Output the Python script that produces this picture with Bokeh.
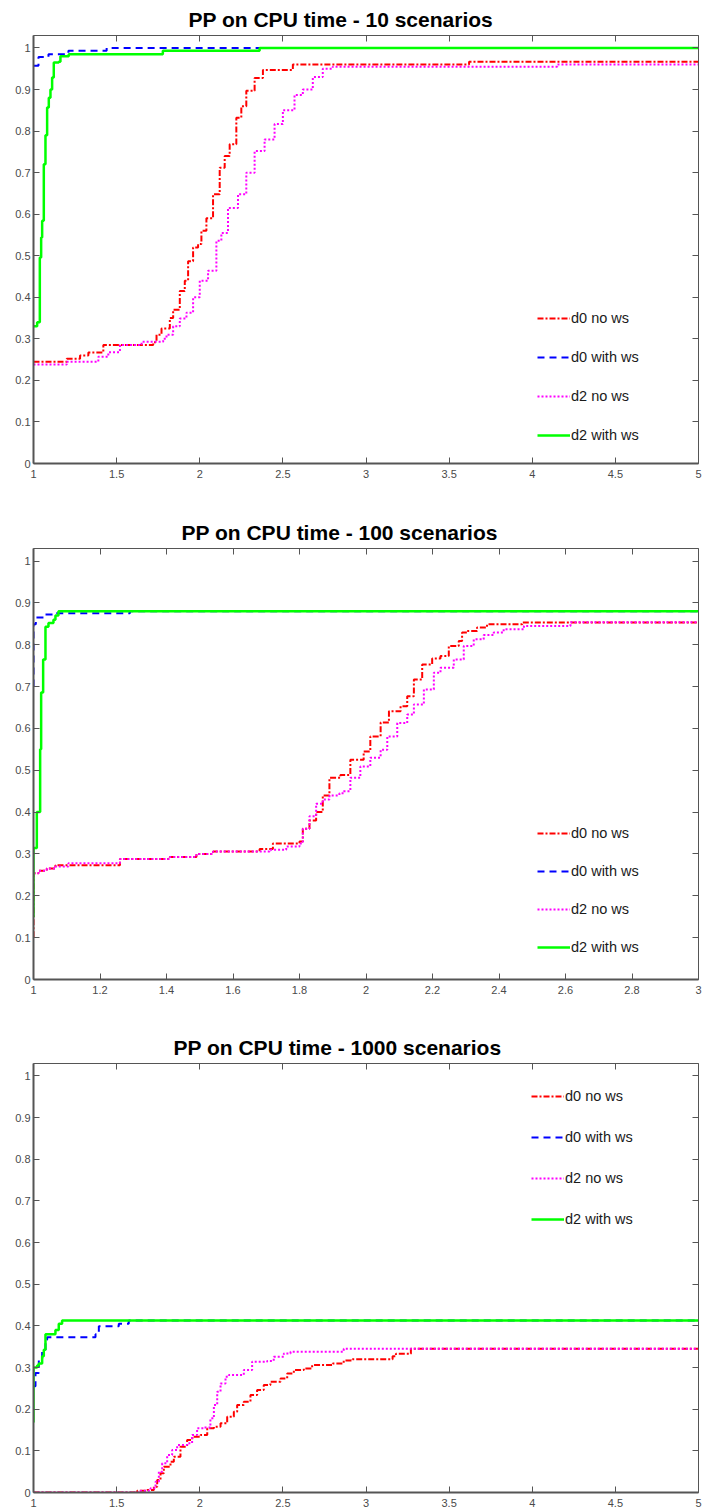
from bokeh.plotting import figure
from bokeh.layouts import column
from bokeh.models import Range1d, FixedTicker, LinearAxis, NumeralTickFormatter
from bokeh.embed import file_html
from bokeh.resources import INLINE

# ---------------- data ----------------
TITLES = ["PP on CPU time - 10 scenarios",
          "PP on CPU time - 100 scenarios",
          "PP on CPU time - 1000 scenarios"]
LABELS = ["d0 no ws", "d0 with ws", "d2 no ws", "d2 with ws"]

Y_TICKS = [0, 0.1, 0.2, 0.3, 0.4, 0.5, 0.6, 0.7, 0.8, 0.9, 1.0]
X_TICKS_1 = [1, 1.5, 2, 2.5, 3, 3.5, 4, 4.5, 5]
X_TICKS_2 = [1, 1.2, 1.4, 1.6, 1.8, 2, 2.2, 2.4, 2.6, 2.8, 3]
X_TICKS_3 = [1, 1.5, 2, 2.5, 3, 3.5, 4, 4.5, 5]

# Panel 1 : 10 scenarios
P1_D0_NOWS_X = [1.0, 1.2, 1.28, 1.33, 1.42, 1.72, 1.74, 1.77, 1.82, 1.84, 1.88, 1.91, 1.93, 1.96,
                1.99, 2.01, 2.04, 2.08, 2.12, 2.15, 2.18, 2.22, 2.25, 2.28, 2.33, 2.38, 2.56, 3.62, 5.0]
P1_D0_NOWS_Y = [0.245, 0.252, 0.26, 0.267, 0.285, 0.292, 0.31, 0.325, 0.35, 0.37, 0.415, 0.44, 0.487,
                0.52, 0.528, 0.56, 0.59, 0.648, 0.712, 0.74, 0.768, 0.832, 0.86, 0.897, 0.928, 0.947,
                0.96, 0.967, 0.967]
P1_D0_WS_X = [1.0, 1.03, 1.09, 1.21, 1.44, 5.0]
P1_D0_WS_Y = [0.957, 0.978, 0.985, 0.993, 1.0, 1.0]
P1_D2_NOWS_X = [1.0, 1.2, 1.39, 1.45, 1.52, 1.65, 1.78, 1.8, 1.84, 1.88, 1.92, 1.96, 2.0, 2.05, 2.1,
                2.13, 2.17, 2.23, 2.28, 2.33, 2.39, 2.45, 2.5, 2.57, 2.62, 2.68, 2.74, 2.8, 4.15, 5.0]
P1_D2_NOWS_Y = [0.238, 0.245, 0.257, 0.268, 0.285, 0.293, 0.3, 0.31, 0.33, 0.349, 0.363, 0.40, 0.44,
                0.464, 0.536, 0.555, 0.615, 0.648, 0.7, 0.752, 0.78, 0.817, 0.85, 0.887, 0.9, 0.93,
                0.95, 0.955, 0.96, 0.96]
P1_D2_WS_X = [1.0, 1.022, 1.038, 1.046, 1.052, 1.062, 1.072, 1.082, 1.092, 1.102, 1.112, 1.122,
              1.152, 1.162, 1.212, 1.778, 2.36, 5.0]
P1_D2_WS_Y = [0.33, 0.34, 0.496, 0.544, 0.584, 0.72, 0.79, 0.857, 0.88, 0.9, 0.929, 0.965, 0.967,
              0.98, 0.985, 0.993, 1.0, 1.0]

# Panel 2 : 100 scenarios
P2_D0_NOWS_X = [1.0, 1.0, 1.0, 1.015, 1.04, 1.066, 1.26, 1.41, 1.49, 1.54, 1.68, 1.72, 1.8, 1.81,
                1.83, 1.85, 1.87, 1.89, 1.923, 1.953, 1.993, 2.013, 2.044, 2.069, 2.104, 2.124, 2.144,
                2.169, 2.199, 2.224, 2.249, 2.279, 2.289, 2.304, 2.334, 2.364, 2.47, 3.0]
P2_D0_NOWS_Y = [0.101, 0.145, 0.254, 0.26, 0.265, 0.273, 0.288, 0.293, 0.30, 0.306, 0.312, 0.325,
                0.33, 0.36, 0.38, 0.40, 0.44, 0.482, 0.489, 0.525, 0.545, 0.581, 0.614, 0.641, 0.653,
                0.677, 0.717, 0.753, 0.767, 0.773, 0.797, 0.809, 0.829, 0.833, 0.841, 0.849, 0.853,
                0.853]
P2_D0_WS_X = [1.0, 1.0, 1.0, 1.007, 1.03, 1.06, 1.29, 3.0]
P2_D0_WS_Y = [0.70, 0.80, 0.849, 0.865, 0.872, 0.875, 0.88, 0.88]
P2_D2_NOWS_X = [1.0, 1.015, 1.04, 1.066, 1.105, 1.26, 1.41, 1.49, 1.54, 1.71, 1.76, 1.8, 1.81, 1.83,
                1.85, 1.87, 1.89, 1.92, 1.933, 1.953, 1.983, 2.013, 2.044, 2.064, 2.094, 2.124, 2.144,
                2.174, 2.204, 2.224, 2.264, 2.294, 2.324, 2.354, 2.384, 2.414, 2.475, 2.615, 3.0]
P2_D2_NOWS_Y = [0.254, 0.26, 0.265, 0.27, 0.278, 0.288, 0.293, 0.30, 0.306, 0.31, 0.318, 0.325, 0.36,
                0.39, 0.42, 0.43, 0.44, 0.445, 0.45, 0.482, 0.509, 0.53, 0.549, 0.581, 0.613, 0.633,
                0.657, 0.693, 0.733, 0.745, 0.765, 0.797, 0.813, 0.823, 0.829, 0.837, 0.845, 0.854,
                0.854]
P2_D2_WS_X = [1.0, 1.0, 1.01, 1.02, 1.023, 1.029, 1.036, 1.045, 1.06, 1.066, 1.075, 3.0]
P2_D2_WS_Y = [0.149, 0.314, 0.40, 0.55, 0.686, 0.765, 0.843, 0.852, 0.86, 0.87, 0.88, 0.88]

# Panel 3 : 1000 scenarios
P3_D0_NOWS_X = [1.0, 1.624, 1.684, 1.724, 1.744, 1.764, 1.784, 1.824, 1.844, 1.884, 1.924, 1.955,
                2.005, 2.045, 2.085, 2.125, 2.165, 2.205, 2.225, 2.265, 2.305, 2.345, 2.385, 2.425,
                2.486, 2.526, 2.566, 2.626, 2.676, 2.8, 2.866, 2.919, 3.16, 3.18, 3.27, 5.0]
P3_D0_NOWS_Y = [0.0, 0.004, 0.006, 0.014, 0.030, 0.046, 0.062, 0.074, 0.086, 0.11, 0.126, 0.134,
                0.138, 0.154, 0.158, 0.166, 0.182, 0.194, 0.21, 0.218, 0.234, 0.246, 0.258, 0.266,
                0.274, 0.286, 0.294, 0.298, 0.306, 0.31, 0.317, 0.32, 0.327, 0.333, 0.345, 0.345]
P3_D0_WS_X = [1.0, 1.012, 1.032, 1.052, 1.072, 1.082, 1.373, 1.393, 1.513, 1.573, 5.0]
P3_D0_WS_Y = [0.255, 0.287, 0.319, 0.339, 0.367, 0.373, 0.38, 0.399, 0.405, 0.413, 0.413]
P3_D2_NOWS_X = [1.0, 1.644, 1.704, 1.734, 1.754, 1.774, 1.804, 1.834, 1.864, 1.924, 1.954, 1.984,
                2.024, 2.064, 2.085, 2.105, 2.125, 2.155, 2.175, 2.265, 2.315, 2.405, 2.445, 2.506,
                2.546, 2.866, 5.0]
P3_D2_NOWS_Y = [0.0, 0.004, 0.01, 0.026, 0.05, 0.07, 0.09, 0.102, 0.114, 0.118, 0.138, 0.154, 0.156,
                0.178, 0.21, 0.242, 0.262, 0.278, 0.282, 0.294, 0.314, 0.316, 0.326, 0.334, 0.338,
                0.345, 0.345]
P3_D2_WS_X = [1.0, 1.0, 1.022, 1.032, 1.052, 1.062, 1.072, 1.132, 1.152, 1.172, 5.0]
P3_D2_WS_Y = [0.168, 0.30, 0.305, 0.31, 0.327, 0.343, 0.38, 0.39, 0.405, 0.413, 0.413]

# ---------------- styling ----------------
COLORS = ["#ff0000", "#0000ff", "#ff00ff", "#00ff00"]
DASHES = ["6 2 2 2", "7 5", "2 2", "solid"]
WIDTHS = [2, 2, 2, 2.5]
FONT = "Liberation Sans"
AXIS_COLOR = "#555555"
LABEL_COLOR = "#4a4a4a"


def style_axis(ax, ticks, standoff=None, width=1.0):
    ax.ticker = FixedTicker(ticks=ticks)
    ax.formatter = NumeralTickFormatter(format="0.[0]")
    ax.axis_line_color = AXIS_COLOR
    ax.axis_line_width = width
    ax.major_tick_line_color = AXIS_COLOR
    ax.major_tick_in = 6
    ax.major_tick_out = 0
    ax.minor_tick_line_color = None
    ax.major_label_text_font = FONT
    if standoff is not None:
        ax.major_label_text_color = LABEL_COLOR
        ax.major_label_text_font_size = "11px"
        ax.major_label_standoff = standoff
    else:
        ax.major_label_text_color = None
        ax.major_label_text_font_size = "0px"
        ax.major_label_standoff = 0


def make_panel(title, x_end, xticks, series, height, btop, bbottom, leg_loc, leg_spacing,
               title_offset):
    p = figure(width=704, height=height, output_backend="svg", toolbar_location=None,
               x_range=Range1d(1, x_end), y_range=Range1d(0, 1.03),
               min_border_left=33, min_border_right=6, min_border_top=btop,
               min_border_bottom=bbottom)
    p.title.text = title
    p.title.text_font = FONT
    p.title.text_font_size = "21px"
    p.title.text_font_style = "bold"
    p.title.text_color = "#000000"
    p.title.align = "left"
    p.title.offset = title_offset
    p.title.standoff = 10
    p.outline_line_color = None
    p.xgrid.visible = False
    p.ygrid.visible = False
    p.background_fill_color = "white"
    p.border_fill_color = "white"

    style_axis(p.xaxis[0], xticks, 6, 2)
    style_axis(p.yaxis[0], Y_TICKS, 3, 2)
    top = LinearAxis()
    right = LinearAxis()
    style_axis(top, xticks, None, 1)
    style_axis(right, Y_TICKS, None, 1)
    p.add_layout(top, "above")
    p.add_layout(right, "right")

    for (xs, ys), lab, c, d, w in zip(series, LABELS, COLORS, DASHES, WIDTHS):
        p.step(xs, ys, mode="after", line_color=c, line_dash=d, line_width=w, legend_label=lab)

    lg = p.legend[0]
    lg.location = leg_loc
    lg.border_line_color = None
    lg.background_fill_alpha = 0
    lg.padding = 0
    lg.margin = 0
    lg.spacing = leg_spacing
    lg.glyph_width = 33
    lg.glyph_height = 20
    lg.label_height = 20
    lg.label_standoff = 1
    lg.label_text_font = FONT
    lg.label_text_font_size = "14.5px"
    lg.label_text_color = "#1a1a1a"
    return p


p1 = make_panel(TITLES[0], 5, X_TICKS_1,
                [(P1_D0_NOWS_X, P1_D0_NOWS_Y), (P1_D0_WS_X, P1_D0_WS_Y),
                 (P1_D2_NOWS_X, P1_D2_NOWS_Y), (P1_D2_WS_X, P1_D2_WS_Y)],
                height=513, btop=34, bbottom=50, leg_loc=(504, 18), leg_spacing=19,
                title_offset=155)
p2 = make_panel(TITLES[1], 3, X_TICKS_2,
                [(P2_D0_NOWS_X, P2_D0_NOWS_Y), (P2_D0_WS_X, P2_D0_WS_Y),
                 (P2_D2_NOWS_X, P2_D2_NOWS_Y), (P2_D2_WS_X, P2_D2_WS_Y)],
                height=515, btop=35, bbottom=49, leg_loc=(504, 22), leg_spacing=18,
                title_offset=148)
p3 = make_panel(TITLES[2], 5, X_TICKS_3,
                [(P3_D0_NOWS_X, P3_D0_NOWS_Y), (P3_D0_WS_X, P3_D0_WS_Y),
                 (P3_D2_NOWS_X, P3_D2_NOWS_Y), (P3_D2_WS_X, P3_D2_WS_Y)],
                height=483, btop=35, bbottom=19, leg_loc=(498, 263), leg_spacing=21,
                title_offset=140)

layout = column(p1, p2, p3, spacing=0)
open("out.html", "w").write(file_html(layout, INLINE))
